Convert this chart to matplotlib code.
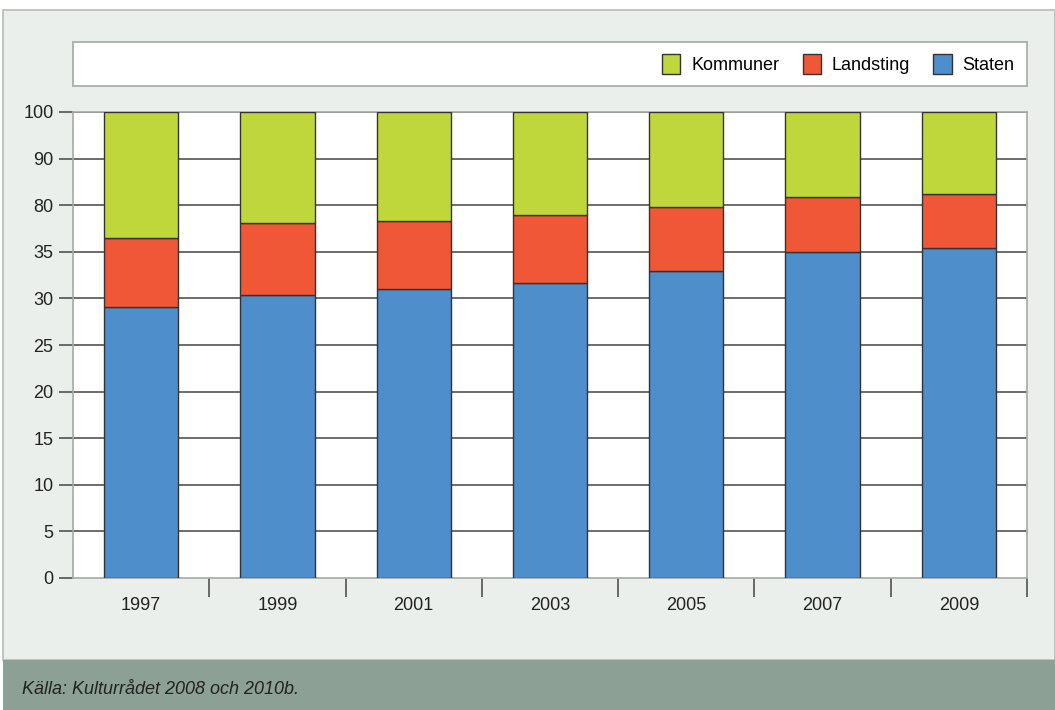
import matplotlib.pyplot as plt
import matplotlib.patches as patches
import numpy as np

plt.rcParams['font.family'] = ['Liberation Sans Narrow', 'Liberation Sans', 'DejaVu Sans']

years = ['1997', '1999', '2001', '2003', '2005', '2007', '2009']
staten = [58.1, 60.8, 62.1, 63.3, 65.9, 70.0, 70.9]
landsting = [14.8, 15.3, 14.6, 14.7, 13.8, 11.7, 11.6]
kommuner = [27.1, 23.9, 23.3, 22.0, 20.3, 18.3, 17.5]
ytick_vals = [0, 10, 20, 30, 40, 50, 60, 70, 80, 90, 100]
ytick_labels = ['0', '5', '10', '15', '20', '25', '30', '35', '80', '90', '100']

W, H = 1055, 710
fig = plt.figure(figsize=(W / 100, H / 100), dpi=100, facecolor='white')

# background panel and footer band
fig.patches.append(patches.Rectangle((3 / W, 50 / H), 1 - 3 / W, 650 / H, transform=fig.transFigure,
                                     facecolor='#EBEFEC', edgecolor='#B5BDB8', linewidth=1.2, zorder=-2))
fig.patches.append(patches.Rectangle((3 / W, 0), 1 - 3 / W, 50 / H, transform=fig.transFigure,
                                     facecolor='#8DA095', edgecolor='none', zorder=-2))
fig.text(22 / W, 20 / H, 'Källa: Kulturrådet 2008 och 2010b.', fontsize=13, style='italic',
         color='#222222', va='center', ha='left')

# main axes
x0, x1, ytop, ybot = 73, 1027, 112, 578
ax = fig.add_axes([x0 / W, (H - ybot) / H, (x1 - x0) / W, (ybot - ytop) / H])
ax.set_facecolor('white')
x = np.arange(len(years))
bw = 0.546
ec = '#333333'
b1 = ax.bar(x, staten, bw, color='#4E8FCB', edgecolor=ec, linewidth=1, zorder=3, label='Staten')
b2 = ax.bar(x, landsting, bw, bottom=staten, color='#F05736', edgecolor=ec, linewidth=1, zorder=3,
            label='Landsting')
b3 = ax.bar(x, kommuner, bw, bottom=np.array(staten) + np.array(landsting), color='#C0D73B',
            edgecolor=ec, linewidth=1, zorder=3, label='Kommuner')

ax.set_xlim(-0.5, len(years) - 0.5)
ax.set_ylim(0, 100)
ax.set_yticks(ytick_vals)
ax.set_yticklabels(ytick_labels, fontsize=13, color='#222222')
for v in ytick_vals[1:]:
    ax.axhline(v, color='#444444', linewidth=1.1, zorder=1)
ax.tick_params(axis='y', length=10, width=1.1, color='#444444', pad=4)

ax.set_xticks(x)
ax.set_xticklabels(years, fontsize=13, color='#222222')
ax.tick_params(axis='x', length=0, pad=14)
ax.set_xticks(np.arange(len(years)) + 0.5, minor=True)
ax.tick_params(axis='x', which='minor', length=14, width=1.1, color='#444444')

for s in ['left', 'right', 'bottom', 'top']:
    ax.spines[s].set_color('#A3ABA6')
    ax.spines[s].set_linewidth(1.2)

# legend box
lax = fig.add_axes([x0 / W, (H - 86) / H, (x1 - x0) / W, 44 / H])
lax.set_facecolor('white')
lax.set_xticks([])
lax.set_yticks([])
for s in lax.spines.values():
    s.set_color('#A3ABA6')
    s.set_linewidth(1.2)
lax.legend(handles=[b3, b2, b1], labels=['Kommuner', 'Landsting', 'Staten'], loc='center right',
           ncol=3, frameon=False, fontsize=13, handlelength=1.0, handleheight=1.3,
           columnspacing=1.3, handletextpad=0.6, borderaxespad=0.3)

fig.savefig('out.png', dpi=100, facecolor=fig.get_facecolor())
